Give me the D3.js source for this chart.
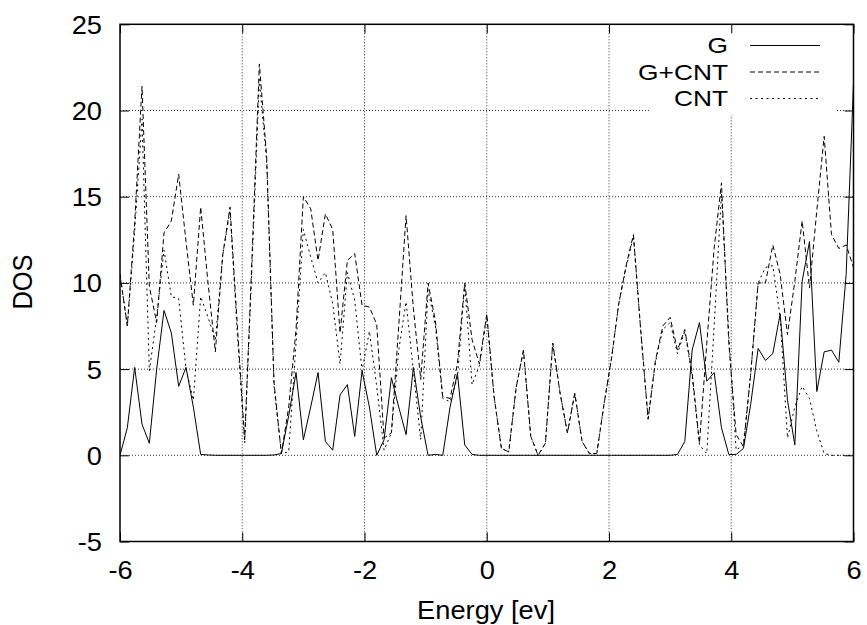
<!DOCTYPE html>
<html>
<head>
<meta charset="utf-8">
<script src="https://cdn.jsdelivr.net/npm/d3@7"></script>
<style>
  body { margin: 0; background: #fff; }
  text { font-family: "Liberation Sans", Arial, sans-serif; fill: #000; }
</style>
</head>
<body>
<svg id="chart" width="867" height="625"></svg>
<script>
// energy grid [eV]
const energy = [
  -6.00, -5.88, -5.76, -5.64, -5.52, -5.40, -5.28, -5.16, -5.04, -4.92,
  -4.80, -4.68, -4.56, -4.44, -4.32, -4.20, -4.08, -3.96, -3.84, -3.72,
  -3.60, -3.48, -3.36, -3.24, -3.12, -3.00, -2.88, -2.76, -2.64, -2.52,
  -2.40, -2.28, -2.16, -2.04, -1.92, -1.80, -1.68, -1.56, -1.44, -1.32,
  -1.20, -1.08, -0.96, -0.84, -0.72, -0.60, -0.48, -0.36, -0.24, -0.12,
   0.00,  0.12,  0.24,  0.36,  0.48,  0.60,  0.72,  0.84,  0.96,  1.08,
   1.20,  1.32,  1.44,  1.56,  1.68,  1.80,  1.92,  2.04,  2.16,  2.28,
   2.40,  2.52,  2.64,  2.76,  2.88,  3.00,  3.12,  3.24,  3.36,  3.48,
   3.60,  3.72,  3.84,  3.96,  4.08,  4.20,  4.32,  4.44,  4.56,  4.68,
   4.80,  4.92,  5.04,  5.16,  5.28,  5.40,  5.52,  5.64,  5.76,  5.88,
   6.00
];

const dosG = [
  0, 1.6, 5.1, 1.8, 0.7, 5.0, 8.4, 7.1, 4.0, 5.1,
  2.8, 0.05, 0.02, 0, 0, 0, 0, 0, 0, 0,
  0, 0.02, 0.1, 2.3, 4.8, 0.9, 2.8, 4.8, 0.8, 0.3,
  3.5, 4.1, 1.1, 4.9, 2.8, 0.0, 0.9, 4.5, 2.8, 1.2,
  5.1, 2.2, 0.0, 0.05, 0.0, 2.8, 4.75, 0.6, 0.05, 0,
  0, 0, 0, 0, 0, 0, 0, 0, 0, 0,
  0, 0, 0, 0, 0, 0, 0, 0, 0, 0,
  0, 0, 0, 0, 0, 0, 0.05, 0.8, 6.1, 7.7,
  4.3, 4.8, 1.6, 0.05, 0.05, 0.4, 3.0, 6.2, 5.5, 5.9,
  8.2, 3.2, 0.6, 10.1, 12.4, 3.7, 6.0, 6.1, 5.4, 10.5,
  21.6
];

const dosGCNT = [
  10.5, 7.5, 13.5, 21.4, 9.8, 7.7, 12.9, 13.6, 16.3, 12.4,
  8.7, 14.4, 10.0, 6.0, 11.6, 14.4, 7.5, 0.9, 11.5, 22.7,
  17.3, 4.2, 0.1, 2.8, 7.3, 15.0, 14.3, 11.3, 14.0, 13.1,
  7.1, 11.3, 11.7, 8.7, 8.6, 7.6, 1.0, 1.3, 7.5, 13.9,
  8.5, 4.4, 10.0, 7.8, 3.4, 3.3, 5.3, 10.0, 6.7, 5.3,
  8.2, 3.4, 0.4, 0.2, 3.9, 6.1, 1.1, 0.0, 0.7, 6.5,
  3.6, 1.3, 3.6, 0.8, 0.1, 0.1, 3.0, 5.6, 8.8, 11.0,
  12.8, 7.2, 2.1, 5.5, 7.5, 8.0, 6.1, 7.3, 4.8, 0.7,
  6.5, 12.0, 15.8, 6.5, 1.2, 0.5, 4.8, 10.0, 10.0, 12.2,
  10.5, 7.0, 10.1, 13.6, 9.7, 14.2, 18.5, 12.8, 12.0, 12.2,
  10.9
];

const dosCNT = [
  10.5, 7.5, 13.0, 19.5, 4.9, 8.0, 11.9, 9.2, 9.1, 5.0,
  3.2, 9.2, 8.0, 6.7, 11.6, 14.2, 7.0, 0.7, 11.0, 21.8,
  17.0, 4.0, 0.1, 0.2, 6.5, 13.1, 11.5, 10.0, 10.6, 8.8,
  5.3, 10.6, 9.0, 4.9, 7.2, 4.0, 0.3, 1.3, 6.1, 8.9,
  4.9, 0.9, 9.6, 7.5, 3.3, 3.1, 4.5, 9.9, 4.1, 5.2,
  8.1, 3.4, 0.4, 0.2, 3.9, 6.1, 1.1, 0.0, 0.7, 6.5,
  3.6, 1.3, 3.6, 0.8, 0.1, 0.1, 3.0, 5.6, 8.8, 10.9,
  12.7, 7.2, 2.1, 5.4, 7.3, 7.7, 5.9, 7.2, 4.6, 0.6,
  0.1, 7.5, 15.2, 7.0, 0.3, 0.6, 4.8, 10.0, 10.9, 11.0,
  8.0, 1.0, 2.8, 4.0, 3.3, 1.4, 0.1, 0, 0, 0,
  0
];

const seriesNames = ["G", "G+CNT", "CNT"];
const xTicks = [-6, -4, -2, 0, 2, 4, 6];
const yTicks = [-5, 0, 5, 10, 15, 20, 25];

const margin = {top: 24.3, right: 13.5, bottom: 83.5, left: 120};
const width = 867 - margin.left - margin.right;
const height = 625 - margin.top - margin.bottom;
const stretch = 1.07; // text in the reference is a bit wider than Arial
const fontPx = "25.5px";

let svg = d3.select("#chart");
let g = svg.append("g").attr("transform", `translate(${margin.left},${margin.top})`);

let x = d3.scaleLinear().domain([-6, 6]).range([0, width]);
let y = d3.scaleLinear().domain([-5, 25]).range([height, 0]);

// grid
g.append("g").selectAll("line").data(xTicks.slice(1, -1)).enter().append("line")
    .attr("x1", d => x(d)).attr("x2", d => x(d))
    .attr("y1", 0).attr("y2", height)
    .attr("stroke", "#333").attr("stroke-width", 1).attr("stroke-dasharray", "1,2");
g.append("g").selectAll("line").data(yTicks.slice(1, -1)).enter().append("line")
    .attr("x1", 0).attr("x2", width)
    .attr("y1", d => y(d)).attr("y2", d => y(d))
    .attr("stroke", "#333").attr("stroke-width", 1).attr("stroke-dasharray", "1,2");

// key box blanks the grid behind it
g.append("rect")
    .attr("x", 649 - margin.left).attr("y", 0)
    .attr("width", 837 - 649).attr("height", 115 - margin.top)
    .attr("fill", "#fff");

// axes with mirrored inner ticks, plain hyphen for negatives like gnuplot
let fmt = d => String(d);
let tick = 9;
let xb = d3.axisBottom(x).tickValues(xTicks).tickSize(-tick).tickPadding(0).tickFormat(fmt);
let xt = d3.axisTop(x).tickValues(xTicks).tickSize(-tick).tickFormat("");
let yl = d3.axisLeft(y).tickValues(yTicks).tickSize(-tick).tickFormat(fmt);
let yr = d3.axisRight(y).tickValues(yTicks).tickSize(-tick).tickFormat("");

let xAxis = g.append("g").attr("transform", `translate(0,${height})`).call(xb);
g.append("g").call(xt);
let yAxis = g.append("g").call(yl);
g.append("g").attr("transform", `translate(${width},0)`).call(yr);

g.selectAll(".domain").remove();
g.selectAll(".tick line").attr("stroke", "#000").attr("stroke-width", 1);

xAxis.selectAll("text")
    .attr("y", 0).attr("dy", 0)
    .style("font-size", fontPx)
    .attr("transform", `translate(0,37) scale(${stretch},1)`);
yAxis.selectAll("text")
    .attr("x", 0).attr("dy", "0.35em")
    .style("font-size", fontPx).style("text-anchor", "end")
    .attr("transform", `translate(-18,0) scale(${stretch},1)`);

// border
g.append("rect").attr("width", width).attr("height", height)
    .attr("fill", "none").attr("stroke", "#000").attr("stroke-width", 1.5);

// curves
svg.append("defs").append("clipPath").attr("id", "plotClip")
    .append("rect").attr("width", width).attr("height", height);

let styles = [
    {data: dosG, dash: null},
    {data: dosGCNT, dash: "5,3"},
    {data: dosCNT, dash: "2,3.5"}
];

let line = d3.line().x((d, i) => x(energy[i])).y(d => y(d));

let curves = g.append("g").attr("clip-path", "url(#plotClip)");
curves.selectAll("path").data(styles).enter().append("path")
    .attr("d", d => line(d.data))
    .attr("fill", "none")
    .attr("stroke", "#000")
    .attr("stroke-width", 1)
    .attr("stroke-dasharray", d => d.dash);

// key (slightly smaller font so the rows don't collide)
let key = svg.append("g");
let rows = key.selectAll("g").data(seriesNames).enter().append("g")
    .attr("transform", (d, i) => `translate(0,${45.5 + i * 26.5})`);
rows.append("text")
    .attr("transform", `translate(728,0) scale(1.17,1)`)
    .attr("dy", "0.35em")
    .style("text-anchor", "end").style("font-size", "22.5px")
    .text(d => d);
rows.append("line")
    .attr("x1", 750).attr("x2", 820)
    .attr("stroke", "#000").attr("stroke-width", 1)
    .attr("stroke-dasharray", (d, i) => styles[i].dash);

// axis labels
svg.append("text")
    .attr("transform", `translate(486,619) scale(${stretch},1)`)
    .style("text-anchor", "middle").style("font-size", fontPx)
    .text("Energy [ev]");
svg.append("text")
    .attr("transform", `translate(32,282) scale(${stretch},1) rotate(-90)`)
    .style("text-anchor", "middle").style("font-size", fontPx)
    .text("DOS");
</script>
</body>
</html>
